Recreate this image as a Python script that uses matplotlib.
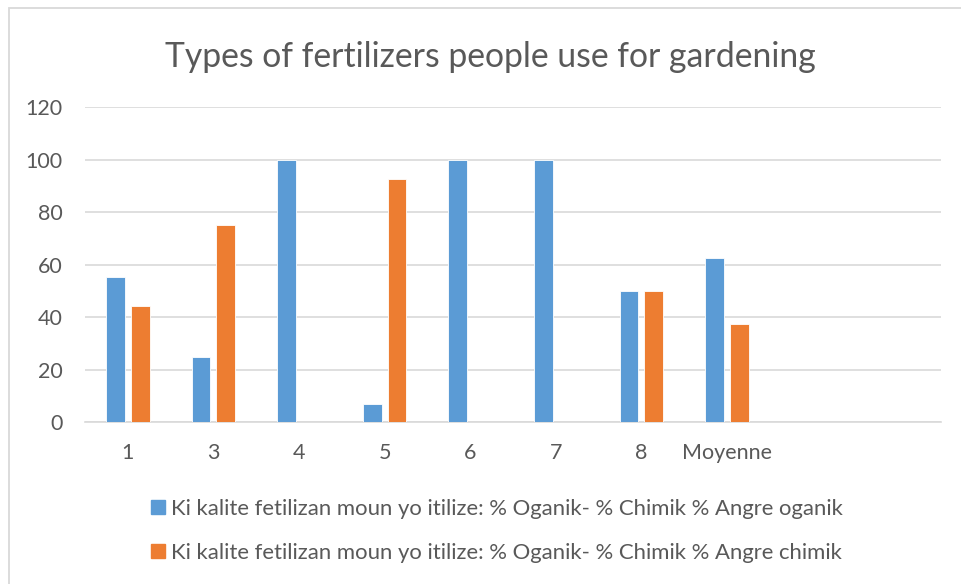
import numpy as np
import matplotlib
matplotlib.use("Agg")
import matplotlib.pyplot as plt
from matplotlib.patches import Rectangle, Patch

# data
categories = ["1", "3", "4", "5", "6", "7", "8", "Moyenne"]
oganik = [55.3, 24.9, 100, 7.1, 100, 100, 50, 62.4]
chimik = [44.4, 75, 0, 92.6, 0, 0, 50, 37.4]
labels = ["Ki kalite fetilizan moun yo itilize: % Oganik- % Chimik % Angre oganik",
          "Ki kalite fetilizan moun yo itilize: % Oganik- % Chimik % Angre chimik"]
title = "Types of fertilizers people use for gardening"

blue = "#5B9BD5"
orange = "#ED7D31"
grid = "#D9D9D9"
txt = "#595959"

plt.rcParams["font.family"] = ["Lato", "DejaVu Sans"]

fig = plt.figure(figsize=(9.61, 5.84), dpi=100)
fig.patches.append(Rectangle((8.5 / 961, -0.1), 1.1, 1 - 8.5 / 584 + 0.1,
                             transform=fig.transFigure, fill=False,
                             edgecolor=grid, linewidth=1.3))

ax = fig.add_axes([0.0885, 0.2769, 0.8907, 0.5394])
x = np.arange(len(categories))
w = 0.22
ax.bar(x - 0.145, oganik, w, color=blue, edgecolor="white", linewidth=0.6, zorder=3)
ax.bar(x + 0.145, chimik, w, color=orange, edgecolor="white", linewidth=0.6, zorder=3)

ax.set_xlim(-0.5, 9.5)
ax.set_ylim(0, 120)
ax.set_yticks(range(0, 121, 20))
ax.set_xticks(x)
ax.set_xticklabels(categories)
ax.yaxis.grid(True, color=grid, linewidth=1.2, zorder=0)
for s in ["top", "right", "left"]:
    ax.spines[s].set_visible(False)
ax.spines["bottom"].set_color(grid)
ax.spines["bottom"].set_linewidth(1.2)
ax.tick_params(length=0, colors=txt, labelsize=15.5)
ax.tick_params(axis="x", pad=15)
ax.tick_params(axis="y", pad=16)

fig.text(0.51, 0.903, title, ha="center", va="center", fontsize=24.3, color=txt)

handles = [Patch(color=blue), Patch(color=orange)]
fig.legend(handles, labels, loc="upper left", bbox_to_anchor=(0.157, 0.1456),
           frameon=False, fontsize=15.9, labelcolor=txt, handlelength=0.62,
           handleheight=0.62, handletextpad=0.27, labelspacing=1.08,
           borderaxespad=0, borderpad=0)

fig.savefig("out.png", dpi=100)
